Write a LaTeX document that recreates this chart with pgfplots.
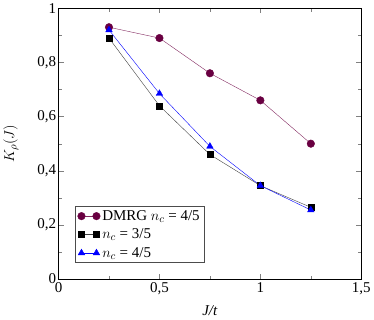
\documentclass[border=0pt]{standalone}
\usepackage{pgfplots}
\pgfplotsset{compat=1.18}
\usepackage{fontspec}
\setmainfont{Liberation Serif}
\definecolor{dmrg}{RGB}{105,0,65}
\definecolor{dmrgl}{RGB}{130,40,95}
\begin{document}
\begin{tikzpicture}
\begin{axis}[
  scale only axis, width=303pt, height=271pt,
  xmin=0, xmax=1.5, ymin=0, ymax=1,
  xtick={0,0.5,1,1.5}, ytick={0,0.2,0.4,0.6,0.8,1},
  minor xtick={0.25,0.75,1.25}, minor ytick={0.1,0.3,0.5,0.7,0.9},
  tick align=inside, tick pos=both,
  major tick length=5pt, minor tick length=3.5pt,
  /pgf/number format/use comma,
  /pgf/number format/assume math mode=true,
  xticklabel={\pgfmathprintnumber[assume math mode=true]{\tick}},
  yticklabel={\pgfmathprintnumber[assume math mode=true]{\tick}},
  ticklabel style={font=\fontsize{15}{17}\selectfont},
  yticklabel style={xshift=1pt},
  label style={font=\fontsize{15}{17}\selectfont},
  xlabel={\textit{J/t}},
  ylabel={$K_\rho(J)$},
  xlabel style={yshift=-4pt},
  ylabel style={yshift=12pt},
  legend style={at={(0.056,0.06)}, anchor=south west, draw=black!70, font=\fontsize{15}{17}\selectfont, row sep=3pt, inner sep=2pt, legend cell align=left},
  legend image code/.code={\draw[#1] (0pt,0pt) -- (15pt,0pt); \draw[#1,only marks] plot coordinates {(0pt,0pt) (15pt,0pt)};},
]
\addplot[dmrgl, thin, mark=*, mark size=3.8pt, mark options={fill=dmrg, draw=dmrg}] coordinates {(0.25,0.93)(0.5,0.89)(0.75,0.76)(1,0.66)(1.25,0.50)};
\addlegendentry{DMRG $n_c$ = 4/5}
\addplot[black!75, thin, mark=square*, mark size=3pt, mark options={fill=black, draw=black}] coordinates {(0.25,0.89)(0.5,0.64)(0.75,0.46)(1,0.345)(1.25,0.265)};
\addlegendentry{$n_c$ = 3/5}
\addplot[blue, thin, mark=triangle*, mark size=3.8pt, mark options={fill=blue, draw=blue}] coordinates {(0.25,0.92)(0.5,0.685)(0.75,0.49)(1,0.345)(1.25,0.255)};
\addlegendentry{$n_c$ = 4/5}
\end{axis}
\end{tikzpicture}
\end{document}
